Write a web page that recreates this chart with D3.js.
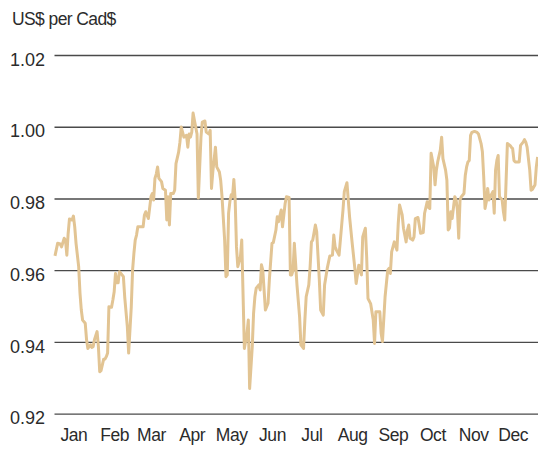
<!DOCTYPE html>
<html>
<head>
<meta charset="utf-8">
<script src="https://cdn.jsdelivr.net/npm/d3@7"></script>
<style>
  body { margin: 0; background: #fff; }
  svg text { font-family: "Liberation Sans Narrow", "Liberation Sans", sans-serif; fill: #2b2b2b; }
</style>
</head>
<body>
<svg id="chart"></svg>
<script>
const YEAR = 2010;

// day of year (0 = Jan 1) for each observation
const DAYS = [0,2,4,5,7,8,9,10,11,13,14,15,16,18,19,20,21,23,24,25,27,28,29,30,32,33,34,35,37,38,39,40,41,43,44,45,46,47,48,49,51,52,53,55,56,58,59,60,61,62,63,65,67,68,69,71,73,74,75,76,77,78,79,81,82,84,85,86,87,88,90,91,92,94,95,96,97,98,100,101,102,103,104,105,106,108,109,111,112,114,115,117,118,119,120,122,123,125,126,127,129,130,131,132,133,134,135,136,137,138,139,141,142,144,146,147,148,150,151,152,153,155,156,157,158,160,162,163,165,166,168,169,170,172,173,175,176,178,179,180,181,182,184,186,187,189,190,191,193,194,195,196,198,199,201,202,204,205,207,209,211,212,213,214,216,217,219,220,222,224,226,228,229,231,232,233,234,236,237,238,240,242,243,244,247,248,249,251,253,254,255,256,258,260,261,262,264,265,267,268,269,270,272,273,274,276,277,278,280,281,283,284,285,286,288,289,290,291,293,294,295,297,298,299,300,301,302,304,305,306,307,308,309,311,312,313,314,315,316,317,319,321,322,324,325,326,327,328,329,330,331,333,334,335,336,337,338,340,341,342,343,344,346,347,348,349,350,352,353,354,356,357,358,359,361,362,363,365,366,367];

// US$ per Cad$
const RATES = [0.9640,0.9675,0.9673,0.9665,0.9689,0.9684,0.9642,0.9703,0.9743,0.9740,0.9751,0.9721,0.9675,0.9610,0.9536,0.9489,0.9461,0.9452,0.9406,0.9382,0.9392,0.9385,0.9387,0.9406,0.9429,0.9387,0.9317,0.9320,0.9352,0.9352,0.9359,0.9369,0.9498,0.9497,0.9517,0.9540,0.9591,0.9565,0.9565,0.9596,0.9587,0.9582,0.9526,0.9443,0.9369,0.9498,0.9600,0.9647,0.9684,0.9698,0.9721,0.9721,0.9721,0.9754,0.9763,0.9744,0.9805,0.9814,0.9796,0.9856,0.9868,0.9888,0.9856,0.9847,0.9828,0.9823,0.9740,0.9805,0.9726,0.9814,0.9814,0.9823,0.9897,0.9929,0.9957,0.9999,0.9985,0.9971,0.9976,0.9943,0.9980,0.9971,0.9985,1.0038,1.0018,0.9980,0.9801,0.9971,1.0013,1.0016,0.9985,0.9980,0.9990,0.9828,0.9874,0.9943,0.9888,0.9874,0.9850,0.9805,0.9684,0.9582,0.9587,0.9759,0.9792,0.9810,0.9805,0.9853,0.9796,0.9665,0.9610,0.9637,0.9684,0.9382,0.9424,0.9461,0.9270,0.9387,0.9480,0.9526,0.9550,0.9559,0.9545,0.9615,0.9600,0.9489,0.9508,0.9573,0.9675,0.9677,0.9712,0.9749,0.9735,0.9768,0.9721,0.9786,0.9805,0.9803,0.9587,0.9587,0.9600,0.9675,0.9559,0.9470,0.9392,0.9382,0.9461,0.9526,0.9559,0.9610,0.9679,0.9684,0.9726,0.9707,0.9573,0.9489,0.9475,0.9559,0.9605,0.9640,0.9642,0.9698,0.9665,0.9656,0.9642,0.9684,0.9768,0.9819,0.9844,0.9749,0.9675,0.9605,0.9563,0.9614,0.9600,0.9587,0.9693,0.9717,0.9637,0.9521,0.9507,0.9461,0.9396,0.9484,0.9484,0.9424,0.9401,0.9526,0.9600,0.9605,0.9591,0.9651,0.9679,0.9656,0.9730,0.9782,0.9754,0.9717,0.9679,0.9712,0.9726,0.9689,0.9684,0.9693,0.9744,0.9747,0.9726,0.9703,0.9705,0.9758,0.9791,0.9775,0.9772,0.9926,0.9888,0.9838,0.9879,0.9902,0.9935,0.9971,0.9911,0.9879,0.9851,0.9712,0.9718,0.9763,0.9744,0.9805,0.9796,0.9768,0.9689,0.9796,0.9805,0.9814,0.9865,0.9888,0.9902,0.9906,0.9976,0.9984,0.9987,0.9984,0.9980,0.9953,0.9930,0.9860,0.9772,0.9791,0.9828,0.9796,0.9805,0.9819,0.9759,0.9879,0.9906,0.9920,0.9805,0.9796,0.9763,0.9740,0.9847,0.9953,0.9948,0.9943,0.9939,0.9906,0.9902,0.9902,0.9902,0.9948,0.9957,0.9964,0.9957,0.9943,0.9879,0.9823,0.9825,0.9838,0.9888,0.9916];

const MONTHS = ["Jan","Feb","Mar","Apr","May","Jun","Jul","Aug","Sep","Oct","Nov","Dec"];
const Y_TICKS = [0.92, 0.94, 0.96, 0.98, 1.00, 1.02];
const Y_LABEL = "US$ per Cad$";

const WIDTH = 538, HEIGHT = 449;
const PLOT = {left: 55, right: 538, top: 55, bottom: 413.7};

const start = new Date(YEAR, 0, 1);
const data = DAYS.map((d, i) => ({date: d3.timeDay.offset(start, d), value: RATES[i]}));

const x = d3.scaleTime()
    .domain([start, new Date(YEAR + 1, 0, 1)])
    .range([PLOT.left, 535]);
const y = d3.scaleLinear()
    .domain([0.92, 1.02])
    .range([PLOT.bottom, PLOT.top]);

const svg = d3.select("#chart")
    .attr("width", WIDTH)
    .attr("height", HEIGHT);

svg.append("rect").attr("width", WIDTH).attr("height", HEIGHT).attr("fill", "#fff");

// y gridlines + labels
const yAxis = svg.append("g")
    .attr("transform", `translate(${PLOT.right},0)`)
    .call(d3.axisLeft(y)
        .tickValues(Y_TICKS)
        .tickFormat(d3.format(".2f"))
        .tickSize(PLOT.right - 54.5)
        .tickPadding(9.5));
yAxis.select(".domain").remove();
yAxis.selectAll(".tick line").attr("stroke", "#4a4a4a").attr("stroke-width", 1.3);
yAxis.selectAll(".tick text")
    .attr("dy", "0.56em")
    .style("font-size", "18px");

// month labels at mid-month
const xAxis = svg.append("g")
    .attr("transform", "translate(0,428)")
    .call(d3.axisBottom(x)
        .tickValues(MONTHS.map((m, i) => new Date(YEAR, i, 15)))
        .tickFormat((d, i) => MONTHS[i])
        .tickSize(0)
        .tickPadding(0));
xAxis.select(".domain").remove();
xAxis.selectAll(".tick text")
    .attr("dy", "0.76em")
    .style("font-size", "17.5px")
    .style("letter-spacing", "-0.4px");

// the series
svg.append("path")
    .datum(data)
    .attr("fill", "none")
    .attr("stroke", "#e2c493")
    .attr("stroke-width", 3)
    .attr("stroke-linejoin", "round")
    .attr("d", d3.line().x(d => x(d.date)).y(d => y(d.value)));

svg.append("text")
    .attr("x", 12)
    .attr("y", 25)
    .style("font-size", "17.5px")
    .style("letter-spacing", "-0.6px")
    .text(Y_LABEL);
</script>
</body>
</html>
